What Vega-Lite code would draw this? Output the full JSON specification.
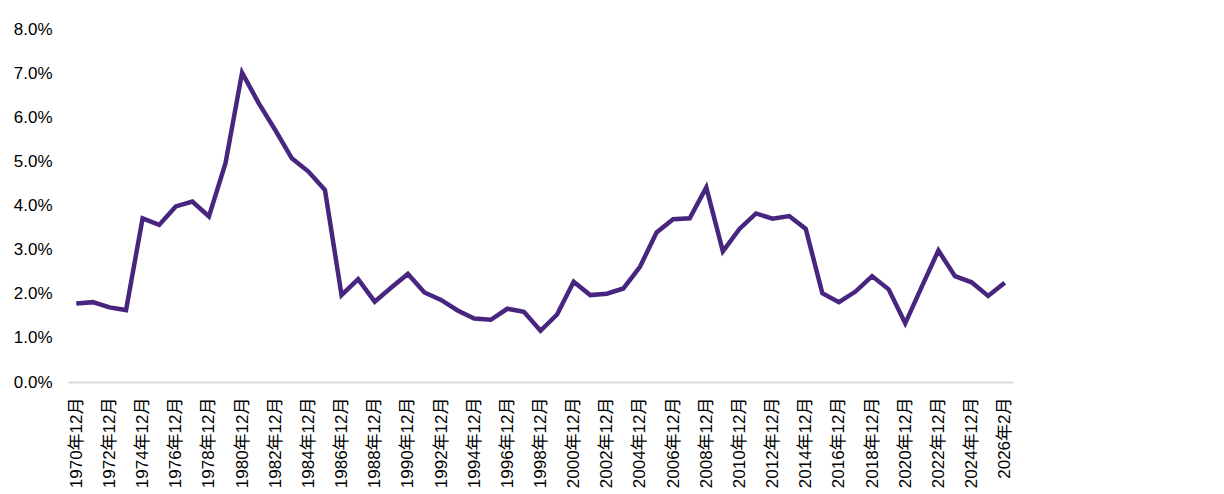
{
  "$schema": "https://vega.github.io/schema/vega-lite/v6.json",
  "width": 945,
  "height": 353,
  "autosize": {"type": "none"},
  "padding": {"left": 68, "top": 29, "right": 211, "bottom": 112},
  "background": "#ffffff",
  "config": {
    "view": {"stroke": null},
    "font": "Liberation Sans, Noto Sans CJK SC",
    "axis": {"labelFont": "Liberation Sans, Noto Sans CJK SC", "labelColor": "#000000", "grid": false, "ticks": false}
  },
  "data": {
    "values": [
      {"date": "1970年12月", "v": 0.0178},
      {"date": "1971年12月", "v": 0.0181},
      {"date": "1972年12月", "v": 0.0169},
      {"date": "1973年12月", "v": 0.0163},
      {"date": "1974年12月", "v": 0.0371},
      {"date": "1975年12月", "v": 0.0356},
      {"date": "1976年12月", "v": 0.0398},
      {"date": "1977年12月", "v": 0.0409},
      {"date": "1978年12月", "v": 0.0375},
      {"date": "1979年12月", "v": 0.0496},
      {"date": "1980年12月", "v": 0.0701},
      {"date": "1981年12月", "v": 0.0632},
      {"date": "1982年12月", "v": 0.0571},
      {"date": "1983年12月", "v": 0.0507},
      {"date": "1984年12月", "v": 0.0477},
      {"date": "1985年12月", "v": 0.0435},
      {"date": "1986年12月", "v": 0.0197},
      {"date": "1987年12月", "v": 0.0233},
      {"date": "1988年12月", "v": 0.0182},
      {"date": "1989年12月", "v": 0.0214},
      {"date": "1990年12月", "v": 0.0245},
      {"date": "1991年12月", "v": 0.0203},
      {"date": "1992年12月", "v": 0.0186},
      {"date": "1993年12月", "v": 0.0162},
      {"date": "1994年12月", "v": 0.0144},
      {"date": "1995年12月", "v": 0.0141},
      {"date": "1996年12月", "v": 0.0166},
      {"date": "1997年12月", "v": 0.0159},
      {"date": "1998年12月", "v": 0.0116},
      {"date": "1999年12月", "v": 0.0153},
      {"date": "2000年12月", "v": 0.0227},
      {"date": "2001年12月", "v": 0.0197},
      {"date": "2002年12月", "v": 0.0200},
      {"date": "2003年12月", "v": 0.0212},
      {"date": "2004年12月", "v": 0.0261},
      {"date": "2005年12月", "v": 0.0339},
      {"date": "2006年12月", "v": 0.0369},
      {"date": "2007年12月", "v": 0.0371},
      {"date": "2008年12月", "v": 0.0441},
      {"date": "2009年12月", "v": 0.0296},
      {"date": "2010年12月", "v": 0.0347},
      {"date": "2011年12月", "v": 0.0382},
      {"date": "2012年12月", "v": 0.0370},
      {"date": "2013年12月", "v": 0.0376},
      {"date": "2014年12月", "v": 0.0347},
      {"date": "2015年12月", "v": 0.0201},
      {"date": "2016年12月", "v": 0.0181},
      {"date": "2017年12月", "v": 0.0205},
      {"date": "2018年12月", "v": 0.0240},
      {"date": "2019年12月", "v": 0.0210},
      {"date": "2020年12月", "v": 0.0133},
      {"date": "2021年12月", "v": 0.0216},
      {"date": "2022年12月", "v": 0.0298},
      {"date": "2023年12月", "v": 0.0240},
      {"date": "2024年12月", "v": 0.0226},
      {"date": "2025年12月", "v": 0.0195},
      {"date": "2026年2月", "v": 0.0225}
    ]
  },
  "mark": {"type": "line", "color": "#48267f", "strokeWidth": 4.5, "strokeJoin": "miter", "strokeCap": "butt"},
  "encoding": {
    "x": {
      "field": "date",
      "type": "ordinal",
      "sort": null,
      "scale": {"type": "point", "padding": 0.5},
      "axis": {
        "title": null,
        "labelAngle": -90,
        "labelAlign": "right",
        "labelBaseline": "middle",
        "labelPadding": 15,
        "labelFontSize": 17,
        "labelOverlap": false,
        "labelExpr": "datum.index * 56 % 2 < 0.5 ? datum.label : ''",
        "domainColor": "#d9d9d9",
        "domainWidth": 2
      }
    },
    "y": {
      "field": "v",
      "type": "quantitative",
      "scale": {"domain": [0, 0.08], "nice": false},
      "axis": {
        "title": null,
        "format": ".1%",
        "values": [0, 0.01, 0.02, 0.03, 0.04, 0.05, 0.06, 0.07, 0.08],
        "domain": false,
        "labelFontSize": 17,
        "labelPadding": 16
      }
    }
  }
}
